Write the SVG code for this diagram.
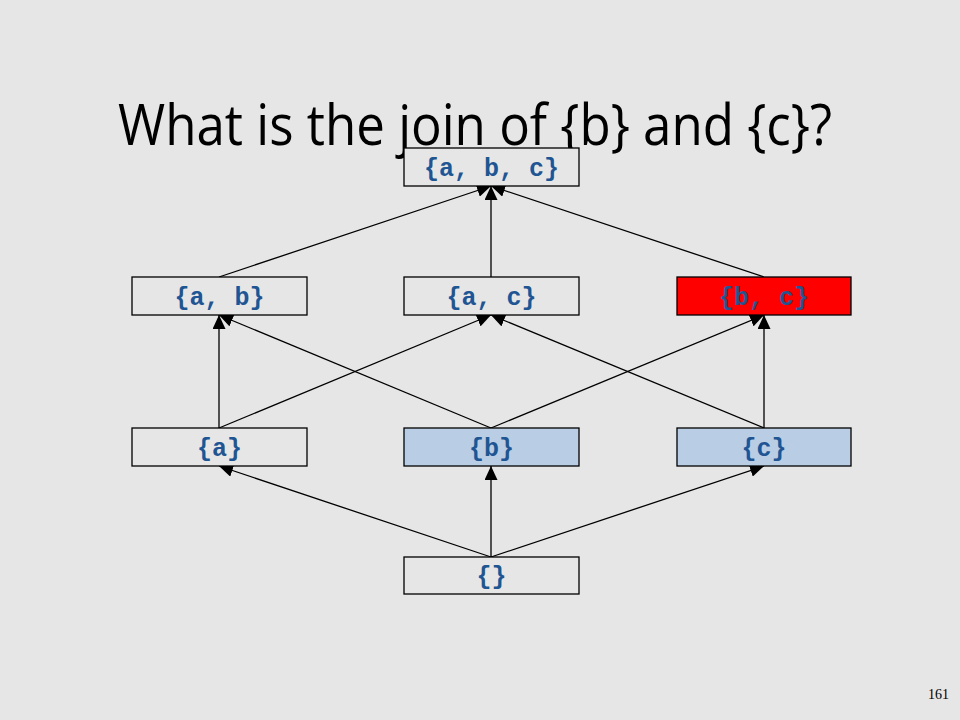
<svg xmlns="http://www.w3.org/2000/svg" width="960" height="720" viewBox="0 0 960 720">
<style>
.bg{fill:#e6e6e6}
.box{fill:#e6e6e6;stroke:#000;stroke-width:1.3}
.blue{fill:#b9cde5}
.red{fill:#ff0000}
.lbl{font-family:"Liberation Mono","Courier New",monospace;font-weight:bold;font-size:25px;fill:#1f5592;text-anchor:middle}
.edge{stroke:#000;stroke-width:1.3;fill:none;marker-end:url(#arr)}
.title{font-family:"Open Sans","Noto Sans",sans-serif;font-size:57px;fill:#000}
.pg{font-family:"Liberation Serif","Times New Roman",serif;font-size:14px;fill:#000}
</style>
<defs>
<marker id="arr" markerUnits="userSpaceOnUse" markerWidth="15" markerHeight="13" viewBox="0 0 15 13" refX="14" refY="6.5" orient="auto">
<path d="M0,0 L14,6.5 L0,13 Z" fill="#000"/>
</marker>
</defs>
<rect class="bg" x="0" y="0" width="960" height="720"/>
<text class="title" x="118" y="145" textLength="714" lengthAdjust="spacingAndGlyphs">What is the join of {b} and {c}?</text>
<g id="connectors">
<line class="edge" x1="491" y1="557" x2="219" y2="466"/>
<line class="edge" x1="491" y1="557" x2="491" y2="466"/>
<line class="edge" x1="491" y1="557" x2="764" y2="466"/>
<line class="edge" x1="219" y1="428" x2="219" y2="315"/>
<line class="edge" x1="219" y1="428" x2="491" y2="315"/>
<line class="edge" x1="491" y1="428" x2="219" y2="315"/>
<line class="edge" x1="491" y1="428" x2="764" y2="315"/>
<line class="edge" x1="764" y1="428" x2="491" y2="315"/>
<line class="edge" x1="764" y1="428" x2="764" y2="315"/>
<line class="edge" x1="219" y1="277" x2="491" y2="186"/>
<line class="edge" x1="491" y1="277" x2="491" y2="186"/>
<line class="edge" x1="764" y1="277" x2="491" y2="186"/>
</g>
<g id="n_abc"><rect class="box" x="404" y="148" width="175" height="38"/><text class="lbl" x="491.5" y="176">{a, b, c}</text></g>
<g id="n_ab"><rect class="box" x="132" y="277" width="175" height="38"/><text class="lbl" x="219.5" y="305">{a, b}</text></g>
<g id="n_ac"><rect class="box" x="404" y="277" width="175" height="38"/><text class="lbl" x="491.5" y="305">{a, c}</text></g>
<g id="n_bc"><rect class="box red" x="677" y="277" width="174" height="38"/><text class="lbl" x="764" y="305">{b, c}</text></g>
<g id="n_a"><rect class="box" x="132" y="428" width="175" height="38"/><text class="lbl" x="219.5" y="456">{a}</text></g>
<g id="n_b"><rect class="box blue" x="404" y="428" width="175" height="38"/><text class="lbl" x="491.5" y="456">{b}</text></g>
<g id="n_c"><rect class="box blue" x="677" y="428" width="174" height="38"/><text class="lbl" x="764" y="456">{c}</text></g>
<g id="n_empty"><rect class="box" x="404" y="557" width="175" height="37"/><text class="lbl" x="491.5" y="584">{}</text></g>
<text class="pg" x="949" y="699" text-anchor="end">161</text>
</svg>
